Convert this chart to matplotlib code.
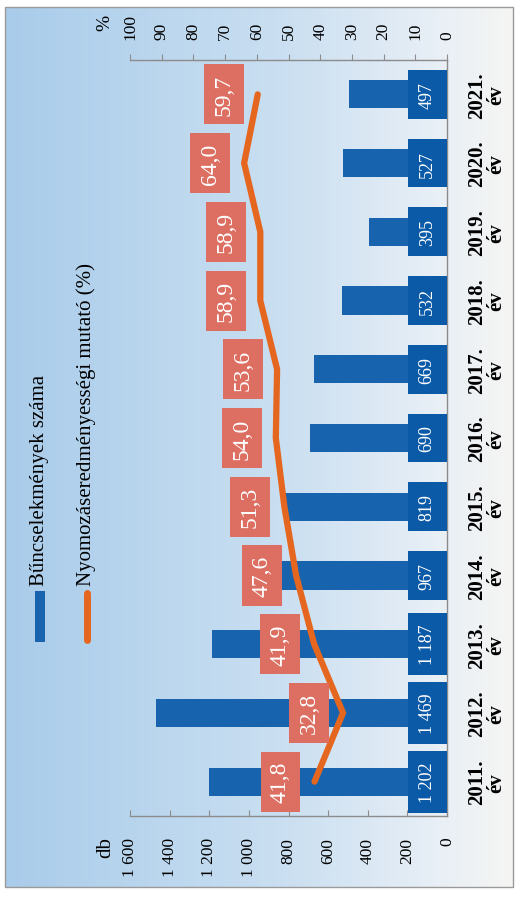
import matplotlib
matplotlib.use('Agg')
import matplotlib.pyplot as plt
import matplotlib.transforms as mtransforms
from matplotlib.patches import Rectangle
import numpy as np

# data
years = ['2011.', '2012.', '2013.', '2014.', '2015.', '2016.',
         '2017.', '2018.', '2019.', '2020.', '2021.']
counts = [1202, 1469, 1187, 967, 819, 690, 669, 532, 395, 527, 497]
count_labels = ['1 202', '1 469', '1 187', '967', '819', '690',
                '669', '532', '395', '527', '497']
rates = [41.8, 32.8, 41.9, 47.6, 51.3, 54.0, 53.6, 58.9, 58.9, 64.0, 59.7]
db_ticks = [0, 200, 400, 600, 800, 1000, 1200, 1400, 1600]
db_ticklabels = ['0', '200', '400', '600', '800', '1 000', '1 200', '1 400', '1 600']
pct_ticks = [0, 10, 20, 30, 40, 50, 60, 70, 80, 90, 100]
legend_bar = 'Bűncselekmények száma'
legend_line = 'Nyomozáseredményességi mutató (%)'

W, H = 518, 904
FONT = 'Liberation Serif'
BAR = '#1763ae'
BOX = '#0b5aa8'
ORANGE = '#e5661f'
SALMON = '#dc6f62'
GRID = '#8c8c8c'

plt.rcParams['font.family'] = FONT

fig = plt.figure(figsize=(W / 100, H / 100), dpi=100)
fig.patch.set_facecolor('white')

# background gradient inside the frame
bg = fig.add_axes([0, 0, 1, 1], zorder=-5)
bg.set_xlim(0, W)
bg.set_ylim(H, 0)
bg.axis('off')
stops_x = [0.0, 0.55, 0.85, 1.0]
stops_c = np.array([[169, 204, 234], [202, 223, 241], [232, 239, 246], [245, 245, 243]]) / 255.0
xs = np.linspace(0, 1, 256)
grad = np.stack([np.interp(xs, stops_x, stops_c[:, k]) for k in range(3)], axis=-1)
grad = np.tile(grad[None, :, :], (8, 1, 1))
bg.imshow(grad, extent=[5, 513, 888, 8], aspect='auto', interpolation='bilinear')
bg.add_patch(Rectangle((5, 8), 508, 880, fill=False, edgecolor='#9a9a9a', lw=1.0))

# main axes (chart is drawn rotated 90 degrees)
left, right, top, bottom = 130, 447, 61, 817
ax = fig.add_axes([left / W, (H - bottom) / H, (right - left) / W, (bottom - top) / H])
ax.patch.set_alpha(0)
idx = np.arange(len(years))

ax.barh(idx, counts, height=0.41, color=BAR, zorder=2)
ax.set_xlim(1600, 0)
ax.set_ylim(-0.5, 10.5)
ax.set_yticks([])
ax.set_xticks(db_ticks)
ax.set_xticklabels(db_ticklabels, rotation=90, fontsize=12.5)
ax.tick_params(axis='x', direction='in', length=4, color=GRID, pad=15)
for s in ['left', 'top']:
    ax.spines[s].set_visible(False)
for s in ['bottom', 'right']:
    ax.spines[s].set_color(GRID)
    ax.spines[s].set_linewidth(1.0)

for i, lab in enumerate(count_labels):
    ax.text(100, i, lab, rotation=90, ha='center', va='center', color='white',
            fontsize=13, zorder=4,
            bbox=dict(boxstyle='square,pad=0.6', facecolor=BOX, edgecolor='none'))

# percent axis on top
ax2 = ax.twiny()
ax2.set_xlim(100, 0)
ax2.set_xticks(pct_ticks)
ax2.set_xticklabels([str(t) for t in pct_ticks], rotation=90, fontsize=12.5)
ax2.tick_params(axis='x', direction='out', length=4, color=GRID, pad=11)
for s in ['left', 'bottom', 'right']:
    ax2.spines[s].set_visible(False)
ax2.spines['top'].set_color(GRID)
ax2.spines['top'].set_linewidth(1.0)

ax2.plot(rates, idx, color=ORANGE, lw=4.5, solid_capstyle='round',
         solid_joinstyle='miter', zorder=5)
for i, r in enumerate(rates):
    ax2.annotate(('%.1f' % r).replace('.', ','), (r, i), xytext=(-34, 0),
                 textcoords='offset pixels', rotation=90, ha='center', va='center',
                 color='white', fontsize=17, zorder=6,
                 bbox=dict(boxstyle='square,pad=0.4', facecolor=SALMON, edgecolor='none'))

# year labels
trans = mtransforms.blended_transform_factory(fig.transFigure, ax.transData)
for i, y in enumerate(years):
    fig.text(487 / W, i, y + '\név', transform=trans, rotation=90, ha='center',
             va='center', multialignment='center', fontsize=15, fontweight='bold',
             linespacing=0.95)

# axis units
fig.text(106 / W, 1 - 848 / H, 'db', rotation=90, ha='center', va='center', fontsize=15)
fig.text(105 / W, 1 - 23 / H, '%', rotation=90, ha='center', va='center', fontsize=14)

# legend (rotated)
bg.add_patch(Rectangle((35, 592), 10, 51, facecolor=BAR, edgecolor='none'))
bg.plot([86.5, 86.5], [594, 641], color=ORANGE, lw=5, solid_capstyle='round')
fig.text(40 / W, 1 - 586 / H, legend_bar, rotation=90, ha='center', va='bottom', fontsize=15)
fig.text(86 / W, 1 - 586 / H, legend_line, rotation=90, ha='center', va='bottom', fontsize=15)

fig.savefig('out.png', dpi=100)
